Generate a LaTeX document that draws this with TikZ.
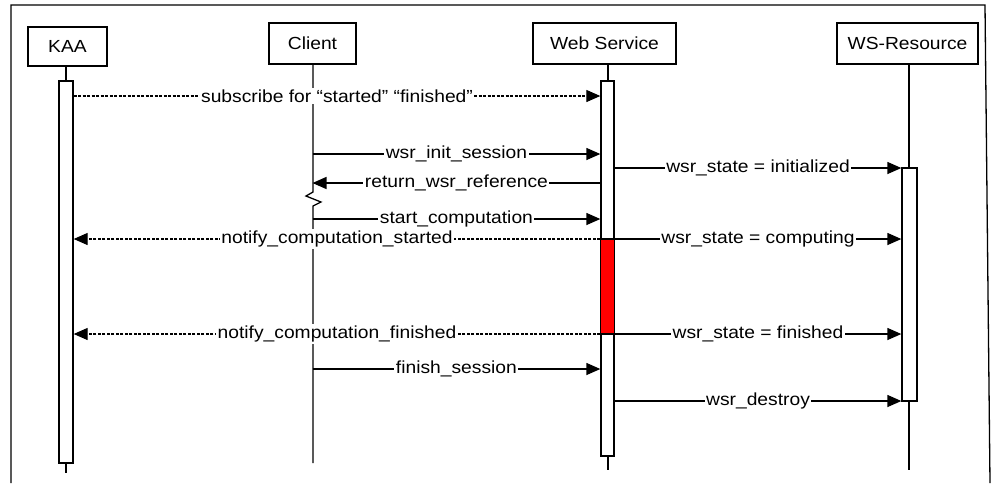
\documentclass[tikz,border=0pt]{standalone}
\usepackage{fontspec}
\setmainfont{Liberation Sans}[FakeStretch=1.1]
\usetikzlibrary{arrows.meta}
\begin{document}
\begin{tikzpicture}[x=1pt,y=-1pt,line width=1.3pt,
  every node/.style={font=\fontsize{17.5}{20}\selectfont},
  actor/.style={draw,fill=white,inner sep=0pt},
  actbar/.style={draw,fill=white,inner sep=0pt},
  lbl/.style={fill=white,inner sep=1.5pt,midway},
  msg/.style={-{Triangle[length=14pt,width=12pt]}},
  dmsg/.style={msg,dash pattern=on 3pt off 1.5pt,line width=1.1pt},
]
\useasboundingbox (0,0) rectangle (993,483);
\fill[white] (0,0) rectangle (993,483);
% frame
\coordinate (fbl) at (11,483);
\coordinate (ftl) at (11,5);
\coordinate (ftr) at (985,5);
\coordinate (fbr) at (990,483);
\draw (fbl) -- (ftl) -- (ftr) -- (fbr);

% actors
\node[actor,minimum width=79pt,minimum height=39pt] (kaa) at (67.5,46.5) {KAA};
\node[actor,minimum width=87pt,minimum height=41pt] (client) at (312.5,43.5) {Client};
\node[actor,minimum width=143pt,minimum height=41pt] (ws) at (604.5,43.5) {Web Service};
\node[actor,minimum width=141pt,minimum height=41pt] (wsr) at (907.5,43.5) {WS-Resource};

% lifeline ends
\coordinate (kaaend) at (66,473);
\coordinate (clientend) at (313,463);
\coordinate (wsend) at (608,470);
\coordinate (wsrend) at (909,470);
\coordinate (zt) at (313,192);
\coordinate (z1) at (306,196);
\coordinate (z2) at (321,202);
\coordinate (zb) at (313,206);

\draw (kaa.south -| kaaend) -- (kaaend);
\draw (client.south -| zt) -- (zt) -- (z1) -- (z2) -- (zb) -- (clientend);
\draw (ws.south -| wsend) -- (wsend);
\draw (wsr.south -| wsrend) -- (wsrend);

% activation bars
\node[actbar,minimum width=14pt,minimum height=382pt] (kaaact) at (66,272) {};
\node[actbar,minimum width=13pt,minimum height=375pt] (wsact) at (607.5,268.5) {};
\node[actbar,minimum width=15pt,minimum height=233pt] (wsract) at (909.5,284.5) {};
\filldraw[fill=red] (wsact.west |- 0,239) rectangle (wsact.east |- 0,334);

% messages
\draw[dmsg] (kaaact.east |- 0,96) -- node[lbl]{subscribe for “started” “finished”} (wsact.west |- 0,96);
\draw[msg] (client.south |- 0,154) -- node[lbl]{wsr\_init\_session} (wsact.west |- 0,154);
\draw[msg] (wsact.east |- 0,168) -- node[lbl]{wsr\_state = initialized} (wsract.west |- 0,168);
\draw[msg] (wsact.west |- 0,183) -- node[lbl]{return\_wsr\_reference} (client.south |- 0,183);
\draw[msg] (client.south |- 0,219) -- node[lbl]{start\_computation} (wsact.west |- 0,219);
\draw[dmsg] (wsact.west |- 0,239) -- node[lbl]{notify\_computation\_started} (kaaact.east |- 0,239);
\draw[msg] (wsact.east |- 0,239) -- node[lbl]{wsr\_state = computing} (wsract.west |- 0,239);
\draw[dmsg] (wsact.west |- 0,334) -- node[lbl]{notify\_computation\_finished} (kaaact.east |- 0,334);
\draw[msg] (wsact.east |- 0,334) -- node[lbl]{wsr\_state = finished} (wsract.west |- 0,334);
\draw[msg] (client.south |- 0,369) -- node[lbl]{finish\_session} (wsact.west |- 0,369);
\draw[msg] (wsact.east |- 0,401) -- node[lbl]{wsr\_destroy} (wsract.west |- 0,401);
\end{tikzpicture}
\end{document}
